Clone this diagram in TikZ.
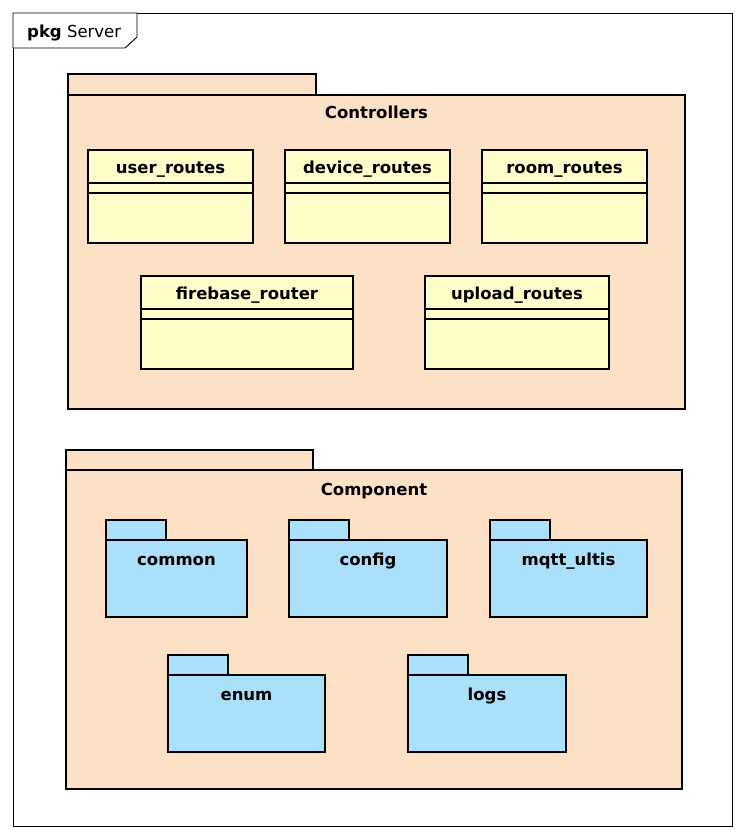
\documentclass[tikz,border=0pt]{standalone}
\usepackage{fontspec}
\setsansfont{DejaVu Sans}
\usetikzlibrary{positioning}

\definecolor{pkgfill}{RGB}{252,225,198}
\definecolor{classfill}{RGB}{255,253,201}
\definecolor{folderfill}{RGB}{170,224,250}

\begin{document}
\begin{tikzpicture}[x=1pt,y=-1pt,node distance=32pt,
	font=\sffamily\fontsize{16.5}{19}\selectfont,
	package/.style={draw,line width=2.8pt,fill=pkgfill,rectangle,inner sep=0pt,outer sep=0pt},
	class box/.style={draw,line width=2.8pt,fill=classfill,rectangle,inner sep=0pt,outer sep=0pt,
		minimum width=165pt,minimum height=93pt,
		path picture={
			\draw[line width=1.2pt] ([yshift=-33pt]path picture bounding box.north west) -- ([yshift=-33pt]path picture bounding box.north east);
			\draw[line width=1.2pt] ([yshift=-43pt]path picture bounding box.north west) -- ([yshift=-43pt]path picture bounding box.north east);}},
	folder/.style={draw,line width=2.8pt,fill=folderfill,rectangle,inner sep=0pt,outer sep=0pt,
		minimum width=158pt,minimum height=77pt},
	title/.style={font=\sffamily\bfseries\fontsize{16.5}{19}\selectfont,inner sep=0pt,anchor=base}]
	
	\useasboundingbox (0,0) rectangle (745,840);
	
	% outer frame
	\draw[line width=0.9pt] (13,13) rectangle (732,826);
	\draw[line width=0.9pt,fill=white] (13,13) -- (137,13) -- (137,37) -- (125,48) -- (13,48) -- cycle;
	\node[anchor=base west,inner sep=0pt] (frame) at (27,38) {\textbf{pkg} Server};
	
	% Controllers
	\draw[package] (68,74) rectangle (316,95);
	\node[package,minimum width=617pt,minimum height=314pt] (ctrl) at (376.5,252) {};
	\node[title] at ([yshift=-24pt]ctrl.north) {Controllers};
	
	\node[class box] (user) at (170.5,196.5) {};
	\node[class box] (device) [right=of user] {};
	\node[class box] (room) [right=of device] {};
	\node[class box,minimum width=212pt] (firebase) at (247,322.5) {};
	\node[class box,minimum width=184pt] (upload) at (517,322.5) {};
	
	\foreach \n/\t in {user/user\_routes,device/device\_routes,room/room\_routes,
		firebase/firebase\_router,upload/upload\_routes}
	\node[title] at ([yshift=-23pt]\n.north) {\t};
	
	% Component
	\draw[package] (66,450) rectangle (313,470);
	\node[package,minimum width=616pt,minimum height=319pt] (comp) at (374,629.5) {};
	\node[title] at ([yshift=-25pt]comp.north) {Component};
	
	\node[folder,minimum width=141pt] (common) at (176.5,578.5) {};
	\node[folder] (config) [right=42pt of common] {};
	\node[folder,minimum width=157pt] (mqtt) [right=43pt of config] {};
	\node[folder,minimum width=157pt] (enum) at (246.5,713.5) {};
	\node[folder] (logs) [right=83pt of enum] {};
	
	\foreach \n/\t in {common/common,config/config,mqtt/mqtt\_ultis,enum/enum,logs/logs}{
		\draw[line width=2.8pt,fill=folderfill] (\n.north west) rectangle ++(60,-20);
		\node[title] at ([yshift=-25pt]\n.north) {\t};
	}
\end{tikzpicture}
\end{document}
